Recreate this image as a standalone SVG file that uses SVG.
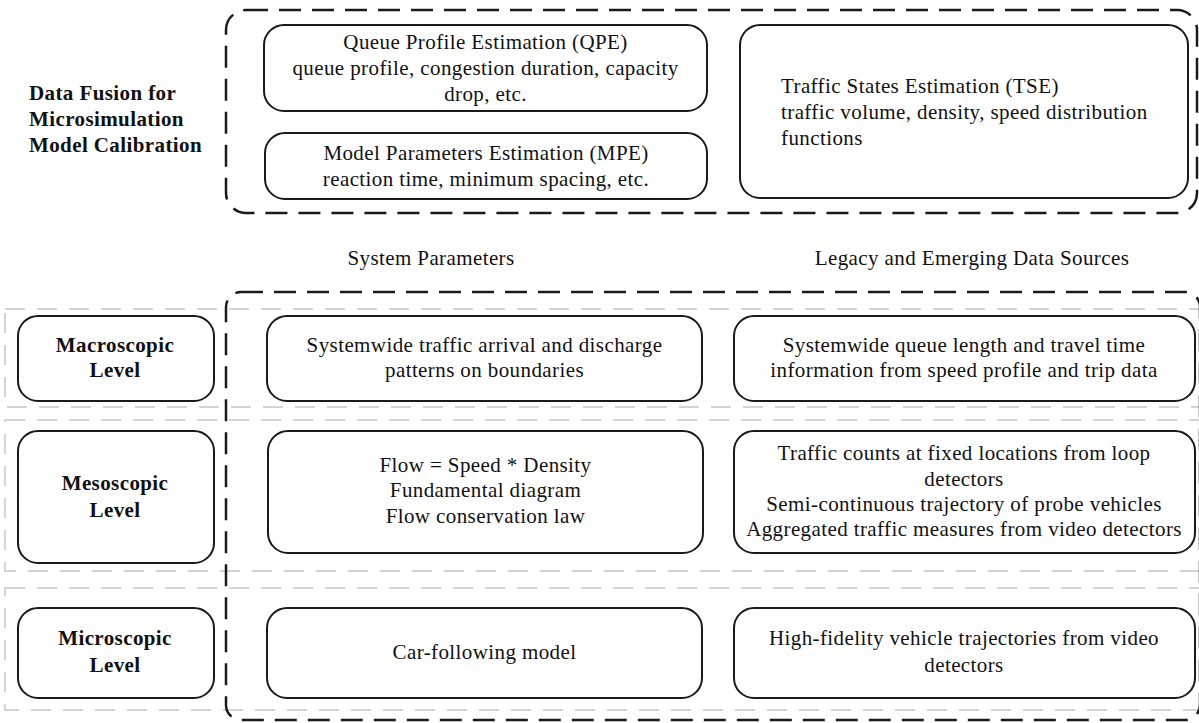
<svg xmlns="http://www.w3.org/2000/svg" width="1199" height="723" viewBox="0 0 1199 723">
<style>
.bg{fill:#fff}
.row{fill:none;stroke:#d4d4d4;stroke-width:2;stroke-dasharray:20 12}
.grp{fill:none;stroke:#1a1a1a;stroke-width:2.5;stroke-dasharray:22 11}
.node rect{fill:#fff;stroke:#1a1a1a;stroke-width:2}
text{font-family:"Liberation Serif","Times New Roman",serif;font-size:21px;fill:#111;letter-spacing:0.4px}
.c{text-anchor:middle}
.b{font-weight:bold}
</style>
<rect class="bg" x="0" y="0" width="1199" height="723"/>
<g id="rows">
<rect class="row" x="5" y="309" width="1210" height="98"/>
<rect class="row" x="5" y="420" width="1210" height="151"/>
<rect class="row" x="5" y="588" width="1210" height="122"/>
</g>
<g id="groups">
<rect class="grp" x="226" y="10" width="971" height="203" rx="20"/>
<rect class="grp" x="226" y="292" width="974" height="428" rx="15"/>
</g>
<g id="labels">
<text class="b" x="29" y="100">Data Fusion for</text>
<text class="b" x="29" y="126">Microsimulation</text>
<text class="b" x="29" y="152">Model Calibration</text>
<text class="c" x="431" y="265">System Parameters</text>
<text class="c" x="972" y="265">Legacy and Emerging Data Sources</text>
</g>
<g id="qpe" class="node">
<rect x="264" y="25" width="443" height="86" rx="20"/>
<text class="c" x="485.5" y="49">Queue Profile Estimation (QPE)</text>
<text class="c" x="485.5" y="75">queue profile, congestion duration, capacity</text>
<text class="c" x="485.5" y="101">drop, etc.</text>
</g>
<g id="mpe" class="node">
<rect x="265" y="133" width="442" height="66" rx="20"/>
<text class="c" x="486" y="160">Model Parameters Estimation (MPE)</text>
<text class="c" x="486" y="186">reaction time, minimum spacing, etc.</text>
</g>
<g id="tse" class="node">
<rect x="740" y="25" width="448" height="173" rx="20"/>
<text x="781" y="93">Traffic States Estimation (TSE)</text>
<text x="781" y="119">traffic volume, density, speed distribution</text>
<text x="781" y="145">functions</text>
</g>
<g id="macro" class="node">
<rect x="18" y="316" width="196" height="85" rx="20"/>
<text class="c b" x="115" y="352">Macroscopic</text>
<text class="c b" x="115" y="377">Level</text>
</g>
<g id="macro-param" class="node">
<rect x="267" y="316" width="435" height="85" rx="20"/>
<text class="c" x="484.5" y="352">Systemwide traffic arrival and discharge</text>
<text class="c" x="484.5" y="377">patterns on boundaries</text>
</g>
<g id="macro-data" class="node">
<rect x="734" y="316" width="461" height="85" rx="20"/>
<text class="c" x="964" y="352">Systemwide queue length and travel time</text>
<text class="c" x="964" y="377">information from speed profile and trip data</text>
</g>
<g id="meso" class="node">
<rect x="18" y="431" width="196" height="132" rx="20"/>
<text class="c b" x="115" y="490">Mesoscopic</text>
<text class="c b" x="115" y="517">Level</text>
</g>
<g id="meso-param" class="node">
<rect x="268" y="431" width="435" height="122" rx="20"/>
<text class="c" x="485.5" y="472">Flow = Speed * Density</text>
<text class="c" x="485.5" y="497">Fundamental diagram</text>
<text class="c" x="485.5" y="523">Flow conservation law</text>
</g>
<g id="meso-data" class="node">
<rect x="734" y="431" width="461" height="122" rx="20"/>
<text class="c" x="964" y="460">Traffic counts at fixed locations from loop</text>
<text class="c" x="964" y="486">detectors</text>
<text class="c" x="964" y="511">Semi-continuous trajectory of probe vehicles</text>
<text class="c" x="964" y="536">Aggregated traffic measures from video detectors</text>
</g>
<g id="micro" class="node">
<rect x="18" y="608" width="196" height="90" rx="20"/>
<text class="c b" x="115" y="645">Microscopic</text>
<text class="c b" x="115" y="672">Level</text>
</g>
<g id="micro-param" class="node">
<rect x="267" y="608" width="435" height="90" rx="20"/>
<text class="c" x="484.5" y="659">Car-following model</text>
</g>
<g id="micro-data" class="node">
<rect x="734" y="608" width="461" height="90" rx="20"/>
<text class="c" x="964" y="645">High-fidelity vehicle trajectories from video</text>
<text class="c" x="964" y="672">detectors</text>
</g>
<g id="connectors"></g>
</svg>
